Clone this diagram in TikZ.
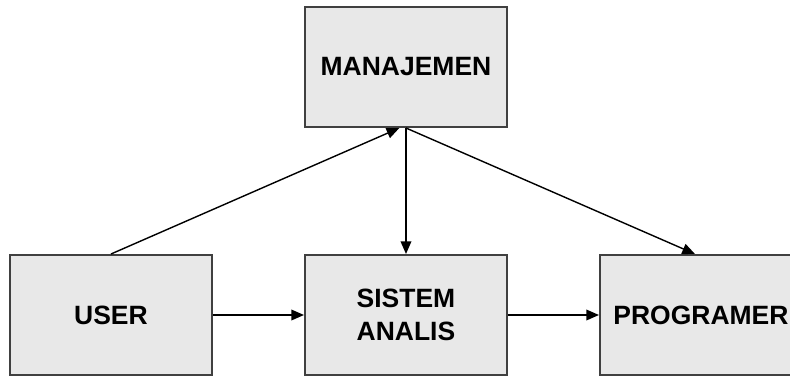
\documentclass[tikz,border=0pt]{standalone}
\usepackage{fontspec}
\newfontfamily\boxfont{Liberation Sans}
\usepackage{tikz}
\usetikzlibrary{positioning,arrows.meta}
\definecolor{boxline}{RGB}{64,64,64}
\definecolor{boxfill}{RGB}{232,232,232}
\begin{document}
\begin{tikzpicture}[
	every node/.style={ align=center,
    					font=\boxfont\bfseries\fontsize{22.6}{28}\selectfont,
                        inner sep=1pt
                        },
	role/.style= {draw=boxline,
    			  fill=boxfill,
                  line width=1.7pt,
                  minimum width=6.06cm,
                  minimum height=3.6cm
    },
    flow/.style= {line width=1.2pt,
                  -{Triangle[length=0.38cm,width=0.32cm]}
    },
    node distance=2.73cm
]
	\clip (0,0) rectangle (23.7,-11.28);
	\node (user) [role] at (3.33,-9.45) {USER};
    \node (sistem) [role, right = of user]{SISTEM\\ ANALIS};
    \node (programer) [role, right = of sistem]{PROGRAMER};
    \node (manajemen) [role, above = 3.78cm of sistem]{MANAJEMEN};
    \draw[flow] (user.north) -- ([xshift=-0.2cm]manajemen.south);
    \draw[flow] (manajemen.south) -- (sistem.north);
    \draw[flow] (manajemen.south) -- ([xshift=-0.18cm]programer.north);
    \draw[flow] (user) -- (sistem);
    \draw[flow] (sistem) -- (programer);
\end{tikzpicture}
\end{document}
